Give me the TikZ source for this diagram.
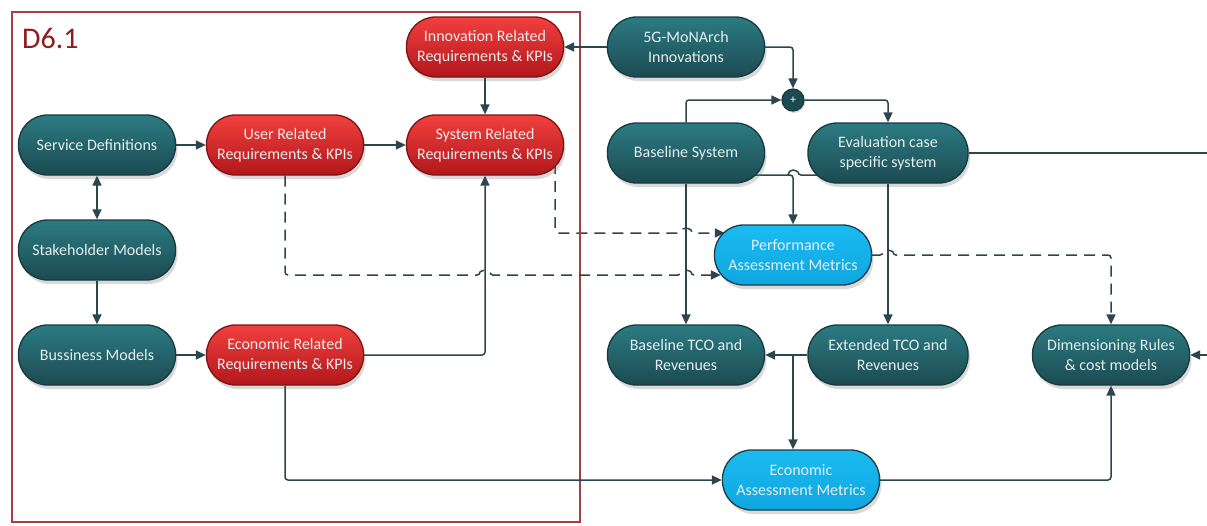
\documentclass[tikz,border=0pt]{standalone}
\usepackage{fontspec}
\setmainfont{Carlito}
\usetikzlibrary{shadows,arrows.meta,calc}

\definecolor{lineC}{HTML}{2B464C}
\definecolor{tealTop}{HTML}{2C7B82}
\definecolor{tealBot}{HTML}{1C4A51}
\definecolor{tealEdge}{HTML}{173940}
\definecolor{redTop}{HTML}{F0403E}
\definecolor{redBot}{HTML}{B3171B}
\definecolor{redEdge}{HTML}{7C1212}
\definecolor{blueTop}{HTML}{1ABBF0}
\definecolor{blueBot}{HTML}{0FA6E0}
\definecolor{blueEdge}{HTML}{1D3D46}
\definecolor{frameC}{HTML}{A4403F}
\definecolor{titleC}{HTML}{8E1D1D}
\definecolor{txtC}{HTML}{E4EEEF}

\pgfdeclarelayer{background}
\pgfsetlayers{background,main}

\tikzset{
  box/.style={rectangle, rounded corners=29pt, minimum width=157pt,
    minimum height=60pt, align=center, text=txtC, line width=1.3pt,
    font=\fontsize{16}{19.5}\selectfont,
    drop shadow={shadow xshift=2pt, shadow yshift=-4pt, opacity=0.3}},
  tealbox/.style={box, draw=tealEdge, top color=tealTop, bottom color=tealBot},
  redbox/.style={box, draw=redEdge, top color=redTop, bottom color=redBot},
  bluebox/.style={box, draw=blueEdge, top color=blueTop, bottom color=blueBot},
  joinnode/.style={circle, minimum size=22pt, inner sep=0pt, draw=tealEdge,
    line width=1.2pt, fill=tealBot, text=white, font=\fontsize{12}{12}\selectfont,
    drop shadow={shadow xshift=1pt, shadow yshift=-2pt, opacity=0.3}},
  wire/.style={draw=lineC, line width=1.5pt, rounded corners=3pt},
  conn/.style={wire, -{Triangle[length=10pt,width=9pt]}},
  dconn/.style={conn, dash pattern=on 11pt off 7pt},
  dwire/.style={wire, dash pattern=on 11pt off 7pt},
}

\begin{document}
\begin{tikzpicture}[x=1pt, y=-1pt]
  \useasboundingbox (0,0) rectangle (1207,525);

  % D6.1 frame
  \draw[frameC, line width=1.3pt] (12,12) rectangle (580,522);
  \node[anchor=base west, text=titleC, font=\fontsize{30}{30}\selectfont, inner sep=0pt]
    (title) at (22,48) {D6.1};

  % left column
  \node[tealbox] (sd) at (97,145) {Service Definitions};
  \node[tealbox] (sm) at (97,250) {Stakeholder Models};
  \node[tealbox] (bm) at (97,355) {Bussiness Models};

  % requirements
  \node[redbox] (ur) at (285,145) {User Related\\Requirements \& KPIs};
  \node[redbox] (sr) at (485,145) {System Related\\Requirements \& KPIs};
  \node[redbox] (ir) at (485,47) {Innovation Related\\Requirements \& KPIs};
  \node[redbox] (er) at (285,355) {Economic Related\\Requirements \& KPIs};

  % systems
  \node[tealbox] (fg) at (686,47) {5G-MoNArch\\Innovations};
  \node[joinnode] (plus) at (793,100) {+};
  \node[tealbox] (bs) at (686,153) {Baseline System};
  \node[tealbox, minimum width=160pt] (ev) at (888,153) {Evaluation case\\specific system};

  % metrics and cost models
  \node[bluebox] (pm) at (793,255) {Performance\\Assessment Metrics};
  \node[tealbox] (btco) at (686,355) {Baseline TCO and\\Revenues};
  \node[tealbox, minimum width=160pt] (etco) at (888,355) {Extended TCO and\\Revenues};
  \node[tealbox] (dr) at (1111,355) {Dimensioning Rules\\\& cost models};
  \node[bluebox] (eam) at (801,480) {Economic\\Assessment Metrics};

  % free ends at the right border
  \coordinate (evOut) at (1207,153);
  \coordinate (drIn) at (1207,355);
  % helper rows for the dashed links
  \coordinate (rowA) at (0,233);
  \coordinate (rowB) at (0,275);
  \coordinate (rowC) at (0,175);
  \coordinate (split) at (793,355);

  % links that start under a node
  \begin{pgfonlayer}{background}
    \draw[conn] ($(bs.center)+(40,22)$) -| (pm.north);
    \draw[wire] ($(ev.center)+(-40,22)$) -- ($(pm.north |- rowC)+(5,0)$)
      arc[start angle=0, end angle=-180, radius=5];
    \draw[dconn] ($(sr.center)+(70,0)$) |- ($(bs.south |- rowA)+(-5,0)$)
      arc[start angle=180, end angle=360, radius=5] -- ($(pm.west)+(11,-22)$);
  \end{pgfonlayer}

  % D6.1 links
  \draw[conn] (sd) -- (ur);
  \draw[conn] (ur) -- (sr);
  \draw[conn] (ir) -- (sr);
  \draw[conn, {Triangle[length=10pt,width=9pt]}-{Triangle[length=10pt,width=9pt]}] (sd) -- (sm);
  \draw[conn] (sm) -- (bm);
  \draw[conn] (bm) -- (er);
  \draw[conn] (er.east) -| (sr.south);
  \draw[conn] (er.south) |- (eam.west);
  \draw[dconn] (ur.south) |- ($(sr.south |- rowB)+(-5,0)$)
    arc[start angle=180, end angle=360, radius=5]
    -- ($(bs.south |- rowB)+(-5,0)$)
    arc[start angle=180, end angle=360, radius=5]
    -- ($(pm.west)+(7,20)$);

  % system links
  \draw[conn] (fg.west) -- (ir.east);
  \draw[conn] (fg.east) -| (plus.north);
  \draw[conn] (bs.north) |- (plus.west);
  \draw[conn] (plus.east) -| (ev.north);
  \draw[conn] (bs.south) -- (btco.north);
  \draw[conn] (ev.south) -- (etco.north);
  \draw[conn] (etco.west) -- (btco.east);
  \draw[conn] (split) -- (split |- eam.north);
  \draw[conn] (eam.east) -| (dr.south);
  \draw[dconn] (pm.east) -- ($(ev.south |- pm.east)+(-5,0)$)
    arc[start angle=180, end angle=360, radius=5] -| (dr.north);
  \draw[wire] (ev.east) -- (evOut);
  \draw[conn] (drIn) -- (dr.east);
\end{tikzpicture}
\end{document}
